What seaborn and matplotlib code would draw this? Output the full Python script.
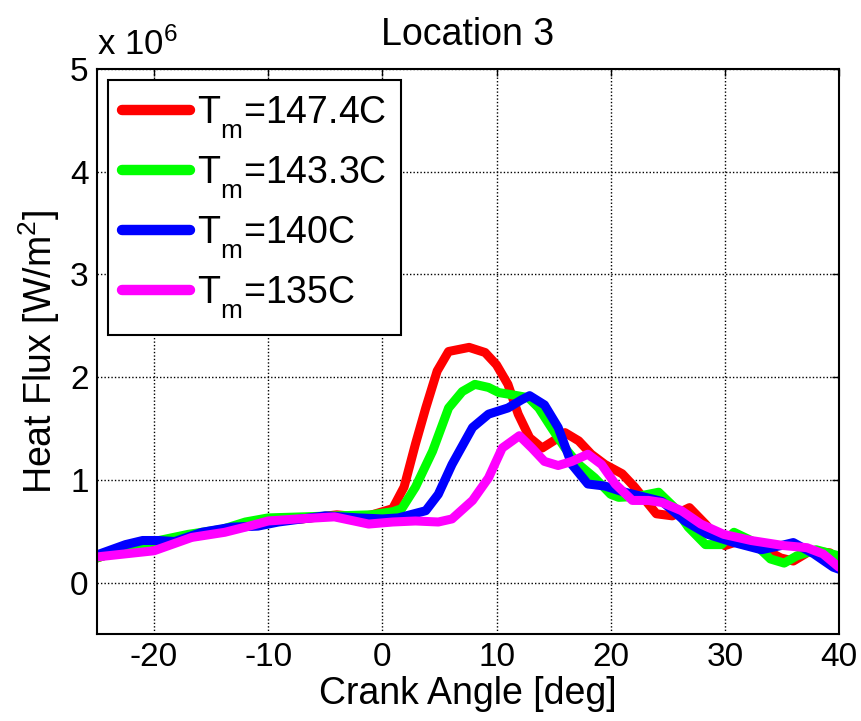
import numpy as np
import pandas as pd
import matplotlib
matplotlib.use("Agg")
import matplotlib.pyplot as plt
import matplotlib._mathtext as _mt
import seaborn as sns
from matplotlib.lines import Line2D

# ---- data (heat flux in units of 1e6 W/m^2) ----
red_x = [-25, -22.5, -20, -17, -14, -12, -10, -7, -4, -2, -0.9, 0.9, 1.9, 2.9, 3.8, 4.8, 5.8, 7.6, 9, 10, 11,
         11.9, 12.9, 14, 15, 16, 17.2, 18.3, 19.5, 21, 22.1, 24, 25.4, 26.9, 28.3, 30, 31.4, 33.2, 34.9, 36,
         37.5, 39.2, 40]
red_y = [0.24, 0.33, 0.38, 0.44, 0.50, 0.56, 0.60, 0.62, 0.66, 0.64, 0.66, 0.72, 0.93, 1.35, 1.70, 2.06, 2.25,
         2.29, 2.24, 2.12, 1.93, 1.64, 1.41, 1.31, 1.38, 1.46, 1.38, 1.25, 1.15, 1.06, 0.93, 0.67, 0.65, 0.73,
         0.57, 0.36, 0.41, 0.34, 0.24, 0.21, 0.31, 0.29, 0.21]

green_x = [-25, -22.5, -20, -17, -14, -12, -10, -7, -4, -1, 0.9, 1.7, 2.9, 4.4, 5.8, 7, 8.1, 9.3, 10.2, 11.3,
           12.8, 13.7, 14.8, 16, 17.2, 18.6, 20, 20.7, 22.4, 24.2, 25.6, 26.8, 28.3, 29.7, 30.8, 32.3, 34, 35.2,
           36.3, 38, 40]
green_y = [0.24, 0.33, 0.40, 0.47, 0.52, 0.59, 0.63, 0.64, 0.65, 0.66, 0.69, 0.72, 0.93, 1.28, 1.70, 1.86, 1.93,
           1.90, 1.85, 1.83, 1.80, 1.70, 1.51, 1.31, 1.15, 1.02, 0.86, 0.83, 0.84, 0.88, 0.73, 0.54, 0.37, 0.37,
           0.49, 0.41, 0.23, 0.19, 0.26, 0.32, 0.26]

blue_x = [-25, -22.5, -21, -19.6, -18.2, -15.8, -13.2, -10.9, -9.1, -5, -2.1, 0, 1.4, 3.8, 4.9, 6.1, 7.9, 9.3, 11,
          12.2, 12.9, 14.2, 15.4, 16.6, 18, 19.5, 20.9, 22.7, 24.5, 26.5, 28.5, 30.8, 33.2, 34.9, 36, 37.8, 39.5, 40]
blue_y = [0.27, 0.37, 0.41, 0.41, 0.40, 0.49, 0.54, 0.55, 0.59, 0.65, 0.63, 0.62, 0.63, 0.70, 0.86, 1.15, 1.51,
          1.64, 1.70, 1.78, 1.82, 1.73, 1.51, 1.15, 0.96, 0.94, 0.89, 0.84, 0.79, 0.60, 0.47, 0.39, 0.32, 0.36,
          0.39, 0.28, 0.15, 0.13]

magenta_x = [-25, -20, -16.7, -13.8, -12, -10, -7.4, -4.2, -1.2, 0.9, 2.9, 4.9, 6.1, 7.9, 9.3, 10.5, 12, 13.1,
             14.2, 15.4, 16.6, 18, 19.2, 20.4, 21.9, 23.3, 24.5, 26.2, 27.9, 29.9, 32.3, 35.2, 37.2, 38.6, 40]
magenta_y = [0.25, 0.31, 0.44, 0.49, 0.54, 0.60, 0.62, 0.64, 0.57, 0.59, 0.60, 0.59, 0.62, 0.80, 1.02, 1.31,
             1.43, 1.31, 1.18, 1.14, 1.18, 1.25, 1.15, 0.96, 0.80, 0.80, 0.78, 0.70, 0.57, 0.47, 0.41, 0.36, 0.34,
             0.28, 0.15]

series_labels = ["147.4C", "143.3C", "140C", "135C"]
series_colors = ["#ff0000", "#00ff00", "#0000ff", "#ff00ff"]
x_ticks = [-20, -10, 0, 10, 20, 30, 40]
y_ticks = [0, 1, 2, 3, 4, 5]

frames = []
for lab, xs, ys in zip(series_labels, [red_x, green_x, blue_x, magenta_x], [red_y, green_y, blue_y, magenta_y]):
    frames.append(pd.DataFrame({"angle": xs, "flux": ys, "series": lab}))
df = pd.concat(frames, ignore_index=True)

sns.set_style("white")
plt.rcParams["font.family"] = ["Liberation Sans", "DejaVu Sans"]
plt.rcParams["mathtext.fontset"] = "custom"
plt.rcParams["mathtext.rm"] = "Liberation Sans"
plt.rcParams["mathtext.it"] = "Liberation Sans"
plt.rcParams["mathtext.default"] = "regular"
for key in ["text.color", "axes.labelcolor", "xtick.color", "ytick.color", "axes.edgecolor"]:
    plt.rcParams[key] = "black"
# MATLAB-like lower subscripts
try:
    _mt.FontConstantsBase.sub1 = 0.75
    _mt.FontConstantsBase.sub2 = 0.9
except Exception:
    pass

fig = plt.figure(figsize=(8.62, 7.21), dpi=100)
ax = fig.add_axes([0.1125, 0.1207, 0.8608, 0.7836])

sns.lineplot(data=df, x="angle", y="flux", hue="series", hue_order=series_labels,
             palette=series_colors, estimator=None, sort=True, linewidth=6.5, legend=False, ax=ax,
             solid_joinstyle="round")

ax.set_xlim(-25, 40)
ax.set_ylim(-0.5, 5)
ax.set_xticks(x_ticks)
ax.set_yticks(y_ticks)
ax.set_xticklabels([str(t) for t in x_ticks])
ax.set_yticklabels([str(t) for t in y_ticks])
ax.tick_params(direction="in", top=True, right=True, labelsize=24, length=5, width=1, pad=6,
               colors="black")
ax.grid(True, color="black", linestyle=(0, (1, 1.5)), linewidth=1.0)
for s in ax.spines.values():
    s.set_color("black")
    s.set_linewidth(1.5)

ax.set_xlabel("Crank Angle [deg]", fontsize=27, labelpad=2, color="black")
ax.set_ylabel(r"Heat Flux [W/m$^2$]", fontsize=27, labelpad=6, color="black")
ax.set_title("Location 3", fontsize=27, pad=17, color="black")
ax.text(0.0, 1.012, r"x 10$^6$", transform=ax.transAxes, fontsize=25, ha="left", va="bottom",
        color="black")

handles = [Line2D([0], [0], color=c, lw=7.5) for c in series_colors]
labels = [r"T$_\mathregular{m}$=" + l for l in series_labels]
leg = ax.legend(handles, labels, loc="upper left", bbox_to_anchor=(0.0148, 0.9805), fontsize=27,
                frameon=True, fancybox=False, framealpha=1, edgecolor="black", handlelength=1.8,
                labelspacing=0.35, borderaxespad=0, handletextpad=0.2, borderpad=0.38)
leg.get_frame().set_linewidth(1.5)
for t in leg.get_texts():
    t.set_color("black")

fig.savefig("out.png", dpi=100)
